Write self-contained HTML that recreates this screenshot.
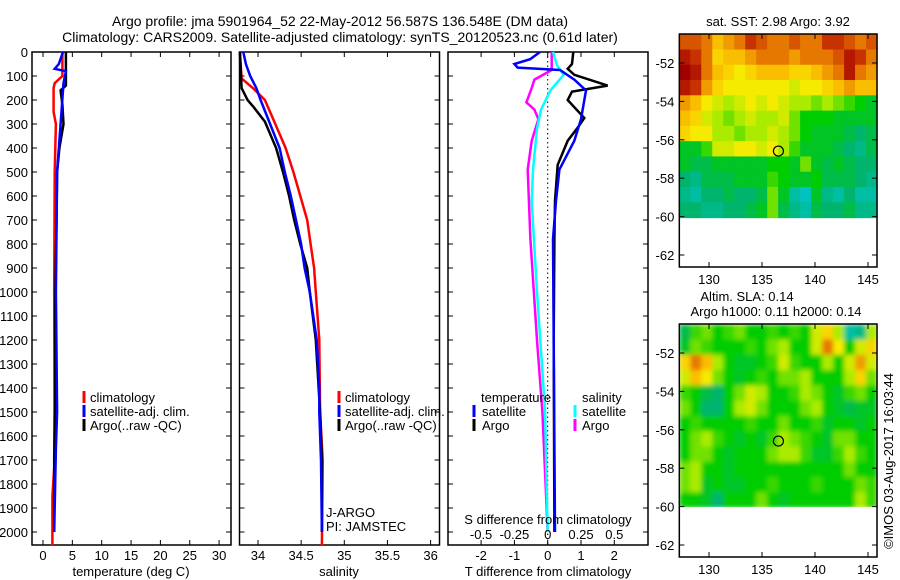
<!DOCTYPE html>
<html><head><meta charset="utf-8"><style>
html,body{margin:0;padding:0;background:#fff;width:900px;height:580px;overflow:hidden}
svg{display:block;font-family:"Liberation Sans",sans-serif;font-size:13px}
</style></head><body>
<svg id="chart" width="900" height="580" viewBox="0 0 900 580">
<defs>
<filter id="smooth" x="0" y="0" width="1" height="1"><feGaussianBlur stdDeviation="2.5" edgeMode="duplicate"/></filter>
<clipPath id="slaClip"><rect x="679" y="324" width="198" height="183"/></clipPath>
</defs>
<text x="340" y="26" text-anchor="middle" font-size="14">Argo profile: jma 5901964_52 22-May-2012 56.587S 136.548E (DM data)</text>
<text x="340" y="42" text-anchor="middle" font-size="14">Climatology: CARS2009. Satellite-adjusted climatology: synTS_20120523.nc (0.61d later)</text>
</svg>
<script>
// ---------- data ----------
const depthTicks=[0,100,200,300,400,500,600,700,800,900,1000,1100,1200,1300,1400,1500,1600,1700,1800,1900,2000];
const tempTicks=[0,5,10,15,20,25,30];
const salTicks=[34,34.5,35,35.5,36];
const tdiffTicks=[-2,-1,0,1,2];
const sdiffTicks=[-0.5,-0.25,0,0.25,0.5];
const lonTicks=[130,135,140,145];
const latTicks=[-52,-54,-56,-58,-60,-62];

const argoTDepth=[0,140,160,220,300,400,500,700,1000,1500,1700,2000];
const argoTVal=[3.9,3.9,3.0,3.3,3.5,2.8,2.4,2.3,2.1,2.0,1.9,1.9];
const climTDepth=[0,100,130,150,250,300,500,1000,1500,1700,1850,2055];
const climTVal=[3.3,3.3,2.0,1.8,1.8,2.2,2.0,1.9,2.0,2.0,1.6,1.6];
const satTDepth=[0,50,70,80,130,300,500,1000,1500,1650,2000];
const satTVal=[3.4,2.7,2.0,3.9,3.5,3.0,2.4,2.2,2.4,2.2,1.9];

const argoSDepth=[0,150,200,230,290,400,500,600,700,800,900,1000,1200,1500,1700,2000];
const argoSVal=[33.79,33.81,33.88,33.95,34.08,34.21,34.29,34.36,34.42,34.49,34.57,34.6,34.67,34.72,34.74,34.74];
const satSDepth=[0,50,100,150,200,300,400,500,600,700,800,900,1000,1200,1400,1500,1700,2000];
const satSVal=[33.83,33.86,33.91,33.98,34.03,34.14,34.25,34.31,34.38,34.44,34.5,34.54,34.6,34.68,34.71,34.71,34.73,34.74];
const climSDepth=[0,110,150,200,300,400,500,600,700,800,900,1000,1200,1500,1700,2055];
const climSVal=[33.79,33.81,33.94,34.08,34.2,34.32,34.41,34.49,34.57,34.61,34.65,34.67,34.71,34.72,34.75,34.74];

const dTsatDepth=[0,30,50,65,75,115,160,280,370,490,620,780,1200,2000];
const dTsatVal=[-0.23,-0.53,-1.0,-0.9,0.37,0.8,1.15,1.0,0.8,0.35,0.25,0.16,0.18,0.22];
const dTargoDepth=[0,50,70,95,140,165,200,230,275,315,370,470,620,780,1200,2000];
const dTargoVal=[0.77,0.73,0.6,0.8,1.8,0.73,0.6,0.8,1.1,0.9,0.6,0.3,0.22,0.2,0.18,0.2];
const dSsatDepth=[0,55,95,160,240,320,490,620,1000,1490,2000];
const dSsatVal=[0.04,0.07,0.12,0.02,-0.05,-0.08,-0.11,-0.12,-0.08,-0.02,0.0];
const dSargoDepth=[0,75,115,150,210,240,280,370,490,780,1200,1500,2000];
const dSargoVal=[0.03,0.03,-0.1,-0.12,-0.16,-0.1,-0.07,-0.12,-0.15,-0.13,-0.08,-0.04,0.0];

const sstGrid=[
[0.85,0.85,0.8,0.7,0.75,0.8,0.9,0.85,0.8,0.8,0.85,0.8,0.8,0.9,0.9,0.85,0.8,0.85],
[0.95,0.9,0.8,0.65,0.7,0.7,0.75,0.8,0.8,0.8,0.75,0.8,0.8,0.8,0.85,0.95,0.9,0.8],
[1,0.95,0.8,0.7,0.65,0.6,0.65,0.7,0.7,0.7,0.65,0.65,0.7,0.75,0.8,0.95,0.8,0.75],
[0.95,0.9,0.75,0.65,0.6,0.6,0.6,0.6,0.6,0.6,0.55,0.6,0.6,0.65,0.7,0.75,0.7,0.7],
[0.75,0.7,0.6,0.55,0.5,0.55,0.6,0.55,0.6,0.55,0.5,0.5,0.45,0.5,0.45,0.4,0.35,0.3],
[0.7,0.65,0.55,0.5,0.45,0.5,0.55,0.5,0.5,0.55,0.45,0.35,0.35,0.35,0.3,0.3,0.3,0.3],
[0.65,0.6,0.6,0.5,0.5,0.45,0.5,0.5,0.55,0.5,0.45,0.35,0.3,0.3,0.3,0.25,0.2,0.25],
[0.3,0.3,0.4,0.55,0.55,0.6,0.6,0.55,0.6,0.5,0.4,0.3,0.3,0.3,0.25,0.2,0.15,0.25],
[0.3,0.25,0.25,0.3,0.3,0.3,0.3,0.3,0.35,0.35,0.3,0.45,0.3,0.25,0.3,0.25,0.2,0.2],
[0.2,0.15,0.25,0.25,0.25,0.3,0.3,0.3,0.4,0.35,0.3,0.3,0.35,0.25,0.25,0.25,0.2,0.15],
[0.15,0.1,0.2,0.2,0.25,0.2,0.2,0.25,0.45,0.3,0.1,0.05,0.3,0.15,0.1,0.2,0.1,0.1],
[0.2,0.2,0.15,0.15,0.2,0.2,0.25,0.3,0.45,0.25,0.15,0.1,0.25,0.2,0.2,0.25,0.15,0.15]];
const slaGrid=[
[0.25,0.4,0.45,0.35,0.4,0.45,0.35,0.35,0.4,0.35,0.4,0.35,0.55,0.65,0.5,0.1,0.15,0.5],
[0.3,0.45,0.4,0.35,0.35,0.35,0.4,0.35,0.45,0.5,0.35,0.35,0.55,0.8,0.6,0.35,0.55,0.65],
[0.65,0.8,0.7,0.5,0.35,0.3,0.3,0.35,0.4,0.55,0.4,0.35,0.35,0.5,0.35,0.55,0.75,0.55],
[0.55,0.7,0.6,0.45,0.35,0.3,0.35,0.4,0.35,0.45,0.45,0.5,0.35,0.35,0.35,0.5,0.65,0.45],
[0.4,0.35,0.25,0.2,0.35,0.45,0.55,0.5,0.35,0.35,0.4,0.5,0.45,0.35,0.3,0.4,0.45,0.35],
[0.45,0.35,0.2,0.2,0.35,0.5,0.55,0.45,0.35,0.35,0.35,0.45,0.5,0.35,0.3,0.25,0.3,0.3],
[0.35,0.4,0.35,0.35,0.35,0.35,0.4,0.35,0.35,0.45,0.35,0.35,0.4,0.3,0.35,0.35,0.3,0.35],
[0.35,0.45,0.5,0.4,0.35,0.3,0.35,0.3,0.4,0.5,0.45,0.4,0.35,0.3,0.45,0.45,0.35,0.35],
[0.35,0.45,0.45,0.35,0.3,0.35,0.35,0.35,0.45,0.5,0.5,0.4,0.3,0.3,0.4,0.5,0.4,0.35],
[0.45,0.5,0.35,0.35,0.3,0.35,0.35,0.35,0.35,0.35,0.35,0.35,0.35,0.35,0.35,0.45,0.35,0.35],
[0.45,0.5,0.3,0.35,0.3,0.3,0.35,0.35,0.4,0.35,0.35,0.35,0.4,0.35,0.35,0.35,0.45,0.4],
[0.35,0.35,0.3,0.2,0.35,0.35,0.35,0.45,0.35,0.3,0.35,0.35,0.35,0.35,0.35,0.35,0.5,0.4]];
const gridLatTop=-50.5, gridLatBot=-60.05, gridLonL=127.2, gridLonR=145.85;
const floatLon=136.548, floatLat=-56.587;

// ---------- helpers ----------
const NS='http://www.w3.org/2000/svg';
const svg=document.getElementById('chart');
function mk(tag,attrs,parent){const e=document.createElementNS(NS,tag);for(const k in attrs)e.setAttribute(k,attrs[k]);(parent||svg).appendChild(e);return e;}
function txt(x,y,s,anchor,parent){const e=mk('text',{x:x,y:y,'text-anchor':anchor||'start'},parent);e.textContent=s;return e;}
const yD=d=>52+0.24*d;
const xT=t=>43+5.87*t;
const xS=s=>258+86.3*(s-34);
const xDT=t=>547.7+33.3*t;
const xDS=s=>547.7+133.2*s;
const xLon=l=>709+(l-130)*10.6;
const yLat1=l=>63+(-52-l)*19.2;
const yLat2=l=>353+(-52-l)*19.2;

function profile(depths,vals,xf,color,w){
  const p=depths.map((d,i)=>xf(vals[i]).toFixed(1)+','+yD(d).toFixed(1)).join(' ');
  return mk('polyline',{points:p,fill:'none',stroke:color,'stroke-width':w||2.5,'stroke-linejoin':'miter'});
}
function panel(x0,x1,name){
  const g=mk('g',{});
  
  
  const r=mk('rect',{x:x0,y:52,width:x1-x0,height:493,fill:'none',stroke:'#000','stroke-width':1.5},g);
  
  
  depthTicks.forEach(d=>{mk('line',{x1:x0,x2:x0+5,y1:yD(d),y2:yD(d),stroke:'#000'},g);mk('line',{x1:x1-5,x2:x1,y1:yD(d),y2:yD(d),stroke:'#000'},g);});
  return g;
}
function xticks(g,ticks,xf,fmt){
  ticks.forEach(t=>{const x=xf(t);mk('line',{x1:x,x2:x,y1:52,y2:57,stroke:'#000'},g);mk('line',{x1:x,x2:x,y1:540,y2:545,stroke:'#000'},g);
   const l=txt(x,560,fmt(t),'middle',g);
   
   });
}
function legendMark(g,x,y,color){mk('rect',{x:x-1.5,y:y-11,width:3,height:12,fill:color},g);}

// ---------- panel 1: temperature ----------
const p1=panel(32,231,'temperature-panel');
depthTicks.forEach(d=>{const l=txt(28,yD(d)+5,String(d),'end');
  
  });
xticks(p1,tempTicks,xT,t=>String(t));
let e;
e=profile(climTDepth,climTVal,xT,'#f00');


e=profile(argoTDepth,argoTVal,xT,'#000');


e=profile(satTDepth,satTVal,xT,'#00f');


e=txt(131,576,'temperature (deg C)','middle');


const lg1=mk('g',{});


legendMark(lg1,84,402,'#f00');txt(90,402,'climatology','start',lg1);
legendMark(lg1,84,416,'#00f');txt(90,416,'satellite-adj. clim.','start',lg1);
legendMark(lg1,84,430,'#000');txt(90,430,'Argo(..raw -QC)','start',lg1);

// ---------- panel 2: salinity ----------
const p2=panel(239.5,439.5,'salinity-panel');
xticks(p2,salTicks,xS,t=>String(t));
e=profile(climSDepth,climSVal,xS,'#f00');


e=profile(argoSDepth,argoSVal,xS,'#000');


e=profile(satSDepth,satSVal,xS,'#00f');


e=txt(339,576,'salinity','middle');


const lg2=mk('g',{});


legendMark(lg2,339,402,'#f00');txt(345,402,'climatology','start',lg2);
legendMark(lg2,339,416,'#00f');txt(345,416,'satellite-adj. clim.','start',lg2);
legendMark(lg2,339,430,'#000');txt(345,430,'Argo(..raw -QC)','start',lg2);
e=txt(326,517,'J-ARGO','start');


e=txt(326,531,'PI: JAMSTEC','start');



// ---------- panel 3: differences ----------
const p3=panel(448,648,'difference-panel');
xticks(p3,tdiffTicks,xDT,t=>String(t));
e=mk('line',{x1:xDT(0),x2:xDT(0),y1:52,y2:545,stroke:'#000','stroke-dasharray':'1.5,3'});


e=profile(dSargoDepth,dSargoVal,xDS,'#f0f');


e=profile(dSsatDepth,dSsatVal,xDS,'#0ff');


e=profile(dTargoDepth,dTargoVal,xDT,'#000');


e=profile(dTsatDepth,dTsatVal,xDT,'#00f');


sdiffTicks.forEach(t=>{const l=txt(xDS(t),539,String(t),'middle');
  
  });
e=txt(548,524,'S difference from climatology','middle');


e=txt(548,576,'T difference from climatology','middle');


const lg3=mk('g',{});


txt(481,402,'temperature','start',lg3);txt(582,402,'salinity','start',lg3);
legendMark(lg3,474,416,'#00f');txt(482,416,'satellite','start',lg3);
legendMark(lg3,474,430,'#000');txt(482,430,'Argo','start',lg3);
legendMark(lg3,575,416,'#0ff');txt(582,416,'satellite','start',lg3);
legendMark(lg3,575,430,'#f0f');txt(582,430,'Argo','start',lg3);

// ---------- maps ----------
const cmapStops=[[0,[0,200,215]],[0.2,[0,180,110]],[0.35,[0,205,0]],[0.5,[170,235,0]],[0.6,[245,235,0]],[0.7,[250,190,0]],[0.8,[230,120,0]],[0.9,[200,50,0]],[1,[160,0,0]]];
function cmap(v){for(let i=1;i<cmapStops.length;i++){if(v<=cmapStops[i][0]){const a=cmapStops[i-1],b=cmapStops[i],f=(v-a[0])/(b[0]-a[0]);return 'rgb('+a[1].map((c,k)=>Math.round(c+(b[1][k]-c)*f)).join(',')+')';}}return 'rgb(160,0,0)';}
function drawMap(grid,yLat,top,name,smooth){
  const g=mk('g',{});
  
  
  const x0=xLon(gridLonL),x1=xLon(gridLonR),yt=yLat(gridLatTop),yb=yLat(gridLatBot);
  const rows=grid.length,cols=grid[0].length,cw=(x1-x0)/cols,ch=(yb-yt)/rows;
  let holder=g;
  if(smooth){const clip=mk('g',{'clip-path':'url(#slaClip)'},g);holder=mk('g',{filter:'url(#smooth)'},clip);}
  grid.forEach((row,r)=>row.forEach((v,c)=>{const cell=mk('rect',{x:(x0+c*cw).toFixed(2),y:(yt+r*ch).toFixed(2),width:(cw+0.6).toFixed(2),height:(ch+0.6).toFixed(2),fill:cmap(v)},holder);
    
    }));
  const bot=top+233;
  const fr=mk('rect',{x:x0,y:top,width:x1-x0,height:bot-top,fill:'none',stroke:'#000','stroke-width':1.5},g);
  
  
  lonTicks.forEach(l=>{const x=xLon(l);mk('line',{x1:x,x2:x,y1:top,y2:top+5,stroke:'#000'},g);mk('line',{x1:x,x2:x,y1:bot-5,y2:bot,stroke:'#000'},g);
    const t=txt(x,bot+17,String(l),'middle',g);
    
    });
  latTicks.forEach(l=>{const y=yLat(l);mk('line',{x1:x0,x2:x0+5,y1:y,y2:y,stroke:'#000'},g);mk('line',{x1:x1-5,x2:x1,y1:y,y2:y,stroke:'#000'},g);
    const t=txt(x0-5,y+5,String(l),'end',g);
    
    });
  const c=mk('circle',{cx:xLon(floatLon),cy:yLat(floatLat),r:5,fill:'none',stroke:'#000','stroke-width':1.2},g);
  
  
  return g;
}
drawMap(sstGrid,yLat1,34,'sst-map',false);
drawMap(slaGrid,yLat2,324,'sla-map',true);
e=txt(778,26,'sat. SST: 2.98 Argo: 3.92','middle');


e=txt(747,301,'Altim. SLA: 0.14','middle');


e=txt(776,316,'Argo h1000: 0.11 h2000: 0.14','middle');


e=txt(0,0,'\u00a9IMOS 03-Aug-2017 16:03:44','middle');
e.setAttribute('transform','translate(893,461) rotate(-90)');


</script>
</body></html>
